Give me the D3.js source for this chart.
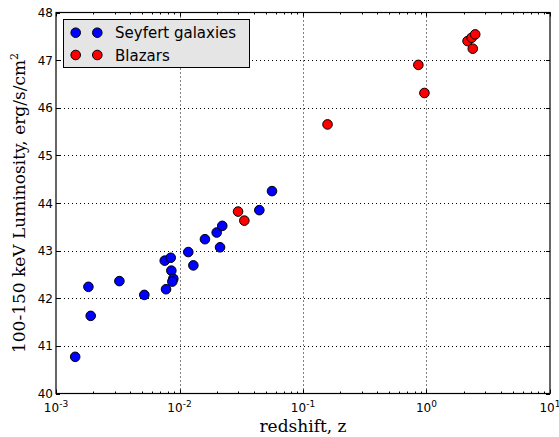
<!DOCTYPE html>
<html>
<head>
<meta charset="utf-8">
<script src="https://cdn.jsdelivr.net/npm/d3@7"></script>
<style>
  html, body { margin: 0; padding: 0; background: #fff; }
  svg { display: block; }
  .tick-label { font-family: "DejaVu Sans", sans-serif; font-size: 12px; fill: #000; }
  .axis-title { font-family: "DejaVu Serif", serif; font-size: 17px; fill: #000; }
  .legend-text { font-family: "DejaVu Sans", sans-serif; font-size: 15px; fill: #000; }
</style>
</head>
<body>
<svg id="chart" width="559" height="437"></svg>
<script>
// Seyfert galaxies: redshift and 100-150 keV luminosity (log erg/s)
const seyfertZ = [0.00143, 0.00183, 0.00191, 0.00326, 0.00519, 0.00759, 0.00849, 0.00778,
                  0.00859, 0.00891, 0.00875, 0.01178, 0.01295, 0.01607, 0.0200, 0.0222,
                  0.0213, 0.0443, 0.0561];
const seyfertL = [40.77, 42.24, 41.63, 42.36, 42.07, 42.79, 42.85, 42.19,
                  42.58, 42.41, 42.35, 42.97, 42.69, 43.24, 43.38, 43.52,
                  43.07, 43.85, 44.25];

// Blazars
const blazarZ = [0.0298, 0.0335, 0.158, 0.859, 0.962, 2.15, 2.32, 2.48, 2.37];
const blazarL = [43.82, 43.63, 45.65, 46.90, 46.31, 47.40, 47.47, 47.54, 47.24];

// Axis ticks
const xMajor = [-3, -2, -1, 0, 1];     // exponents of 10
const yMajor = [40, 41, 42, 43, 44, 45, 46, 47, 48];

const legendLabels = ["Seyfert galaxies", "Blazars"];
const seriesColors = ["#0000ff", "#ff0000"];

const svg = d3.select("#chart");
const pLeft = 56, pRight = 550, pTop = 12.5, pBottom = 393.5;

const x = d3.scaleLog().domain([1e-3, 10]).range([pLeft, pRight]);
const y = d3.scaleLinear().domain([40, 48]).range([pBottom, pTop]);

// minor ticks for log axis: 2..9 × each decade
const xMinor = [];
for (let e = -3; e < 1; e++) for (let m = 2; m <= 9; m++) xMinor.push(m * Math.pow(10, e));

// grid (dotted)
const grid = svg.append("g").attr("stroke", "#000").attr("stroke-width", 1)
  .attr("stroke-dasharray", "1,3");
grid.selectAll("line.gx").data(xMajor.slice(1, -1)).join("line")
  .attr("class", "gx")
  .attr("x1", d => Math.round(x(Math.pow(10, d))) + 0.5)
  .attr("x2", d => Math.round(x(Math.pow(10, d))) + 0.5)
  .attr("y1", pTop).attr("y2", pBottom);
grid.selectAll("line.gy").data(yMajor.slice(1, -1)).join("line")
  .attr("class", "gy")
  .attr("x1", pLeft).attr("x2", pRight)
  .attr("y1", d => Math.round(y(d)) + 0.5)
  .attr("y2", d => Math.round(y(d)) + 0.5);

// ticks on all four sides, pointing inward
const ticks = svg.append("g").attr("stroke", "#000").attr("stroke-width", 1);
const majLen = 4, minLen = 2;
xMajor.forEach(e => {
  const px = Math.round(x(Math.pow(10, e))) + 0.5;
  ticks.append("line").attr("x1", px).attr("x2", px).attr("y1", pBottom).attr("y2", pBottom - majLen);
  ticks.append("line").attr("x1", px).attr("x2", px).attr("y1", pTop).attr("y2", pTop + majLen);
});
xMinor.forEach(v => {
  const px = Math.round(x(v)) + 0.5;
  ticks.append("line").attr("x1", px).attr("x2", px).attr("y1", pBottom).attr("y2", pBottom - minLen);
  ticks.append("line").attr("x1", px).attr("x2", px).attr("y1", pTop).attr("y2", pTop + minLen);
});
yMajor.forEach(v => {
  const py = Math.round(y(v)) + 0.5;
  ticks.append("line").attr("x1", pLeft).attr("x2", pLeft + majLen).attr("y1", py).attr("y2", py);
  ticks.append("line").attr("x1", pRight).attr("x2", pRight - majLen).attr("y1", py).attr("y2", py);
});

// frame
svg.append("rect").attr("x", pLeft).attr("y", pTop)
  .attr("width", pRight - pLeft).attr("height", pBottom - pTop)
  .attr("fill", "none").attr("stroke", "#000").attr("stroke-width", 1.2);

// y tick labels
svg.append("g").selectAll("text").data(yMajor).join("text")
  .attr("class", "tick-label")
  .attr("x", pLeft - 3).attr("y", d => y(d) + 4.5)
  .attr("text-anchor", "end")
  .text(d => d);

// x tick labels 10^e
const xl = svg.append("g").selectAll("text").data(xMajor).join("text")
  .attr("class", "tick-label")
  .attr("x", d => x(Math.pow(10, d)))
  .attr("y", pBottom + 18)
  .attr("text-anchor", "middle");
xl.append("tspan").text("10");
xl.append("tspan").attr("dy", -5).attr("font-size", "9px").text(d => d < 0 ? "-" + (-d) : d);

// axis titles
svg.append("text").attr("class", "axis-title")
  .attr("x", (pLeft + pRight) / 2).attr("y", 432)
  .attr("text-anchor", "middle").text("redshift, z");

const yt = svg.append("text").attr("class", "axis-title")
  .attr("transform", `translate(25,${(pTop + pBottom) / 2}) rotate(-90)`)
  .attr("text-anchor", "middle");
yt.append("tspan").text("100-150 keV Luminosity, erg/s/cm");
yt.append("tspan").attr("dy", -7).attr("font-size", "11px").text("2");

// points
const r = 4.8;
svg.append("g").selectAll("circle").data(d3.range(seyfertZ.length)).join("circle")
  .attr("cx", i => x(seyfertZ[i])).attr("cy", i => y(seyfertL[i])).attr("r", r)
  .attr("fill", seriesColors[0]).attr("stroke", "#000").attr("stroke-width", 1);
svg.append("g").selectAll("circle").data(d3.range(blazarZ.length)).join("circle")
  .attr("cx", i => x(blazarZ[i])).attr("cy", i => y(blazarL[i])).attr("r", r)
  .attr("fill", seriesColors[1]).attr("stroke", "#000").attr("stroke-width", 1);

// legend
const lg = svg.append("g");
lg.append("rect").attr("x", 63.5).attr("y", 19.5).attr("width", 186).attr("height", 48)
  .attr("fill", "#e5e5e5").attr("stroke", "#000").attr("stroke-width", 1);
legendLabels.forEach((lab, i) => {
  const cy = 32.7 + i * 22.3;
  [75.7, 97.3].forEach(cx => {
    lg.append("circle").attr("cx", cx).attr("cy", cy).attr("r", r)
      .attr("fill", seriesColors[i]).attr("stroke", "#000").attr("stroke-width", 1);
  });
  lg.append("text").attr("class", "legend-text").attr("x", 115).attr("y", cy + 5.5).text(lab);
});
</script>
</body>
</html>
